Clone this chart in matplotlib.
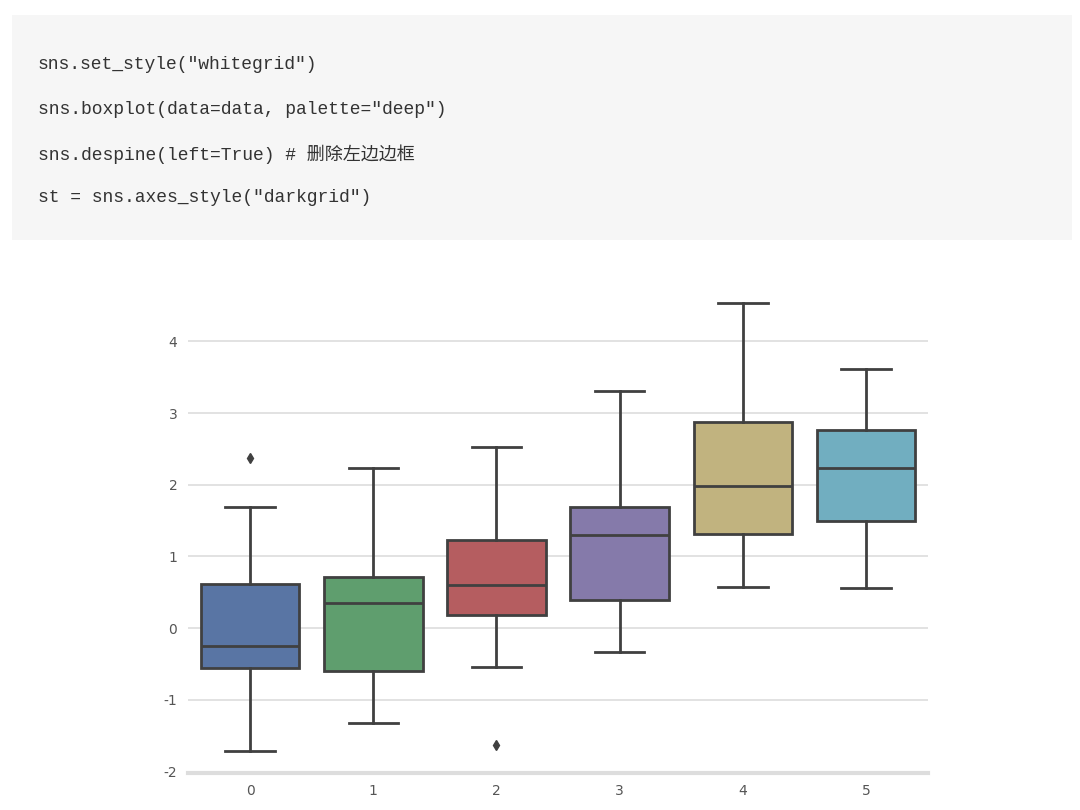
import colorsys
import matplotlib
matplotlib.use("Agg")
import matplotlib.pyplot as plt
import matplotlib.colors as mcolors
from matplotlib.patches import Rectangle

plt.rcParams["axes.unicode_minus"] = False

# values
categories = ["0", "1", "2", "3", "4", "5"]
whis_lo = [-1.71, -1.32, -0.54, -0.33, 0.58, 0.56]
q1 = [-0.56, -0.60, 0.19, 0.39, 1.31, 1.49]
medians = [-0.25, 0.35, 0.60, 1.30, 1.98, 2.24]
q3 = [0.61, 0.72, 1.23, 1.69, 2.88, 2.76]
whis_hi = [1.69, 2.24, 2.53, 3.31, 4.54, 3.62]
fliers = [[2.37], [], [-1.63], [], [], []]

code_lines = [
    'sns.set_style("whitegrid")',
    'sns.boxplot(data=data, palette="deep")',
    'sns.despine(left=True) # 删除左边边框',
    'st = sns.axes_style("darkgrid")',
]

deep = ["#4C72B0", "#55A868", "#C44E52", "#8172B2", "#CCB974", "#64B5CD"]


def desaturate(c, prop=0.75):
    h, l, s = colorsys.rgb_to_hls(*mcolors.to_rgb(c))
    return colorsys.hls_to_rgb(h, l, s * prop)


fig = plt.figure(figsize=(10.8, 8.1), dpi=100)

# code block on top
fig.patches.append(Rectangle((0.011, 0.7037), 0.9815, 0.2778, transform=fig.transFigure,
                             facecolor="#f6f6f6", edgecolor="none", zorder=0))
line_y = [0.9198, 0.8642, 0.8099, 0.7556]
for s, y in zip(code_lines, line_y):
    fig.text(0.035, y, s, family=["Liberation Mono", "Noto Sans CJK SC"],
             fontsize=13, color="#333333", va="center", ha="left")

ax = fig.add_axes([0.1745, 0.0457, 0.6845, 0.608])

stats = []
for i in range(len(categories)):
    stats.append(dict(med=medians[i], q1=q1[i], q3=q3[i], whislo=whis_lo[i],
                      whishi=whis_hi[i], fliers=fliers[i], label=categories[i]))

edge = "#404040"
bp = ax.bxp(stats, positions=range(len(categories)), widths=0.8, patch_artist=True,
            manage_ticks=False,
            boxprops=dict(edgecolor=edge, linewidth=2),
            medianprops=dict(color=edge, linewidth=2),
            whiskerprops=dict(color=edge, linewidth=2),
            capprops=dict(color=edge, linewidth=2),
            flierprops=dict(marker="d", markersize=5, markerfacecolor=edge,
                            markeredgecolor=edge))
for patch, c in zip(bp["boxes"], deep):
    patch.set_facecolor(desaturate(c))
for art in bp["whiskers"] + bp["caps"] + bp["medians"] + bp["boxes"]:
    art.set_zorder(3)

ax.set_xlim(-0.5, 5.5)
ax.set_ylim(-2.02, 4.85)
ax.set_xticks(range(len(categories)))
ax.set_xticklabels(categories)
ax.set_yticks([-2, -1, 0, 1, 2, 3, 4])
ax.tick_params(length=0, colors="#555555", labelsize=10, pad=8)
ax.yaxis.grid(True, color="#dddddd", linewidth=1.2)
ax.set_axisbelow(True)
for side in ["left", "top", "right"]:
    ax.spines[side].set_visible(False)
ax.spines["bottom"].set_color("#dddddd")
ax.spines["bottom"].set_linewidth(3)

fig.savefig("out.png", dpi=100)
